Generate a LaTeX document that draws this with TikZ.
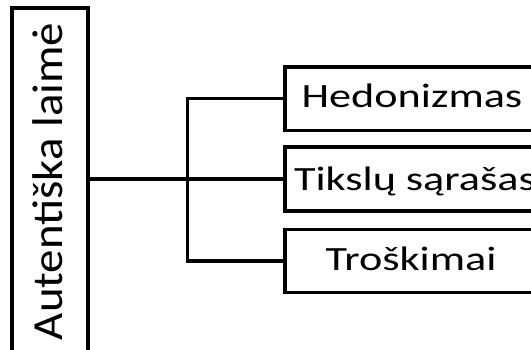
\documentclass[tikz,border=0pt]{standalone}
\usepackage{fontspec}
\setmainfont{Carlito}
\begin{document}
\begin{tikzpicture}[x=1pt,y=1pt,
  box/.style={draw=black,line width=3.2pt,inner sep=0pt,outer sep=0pt,rectangle},
  conn/.style={draw=black,line width=3.2pt,line cap=rect},
  lbl/.style={inner sep=0pt,outer sep=0pt,font=\fontsize{34}{40}\selectfont}]
\useasboundingbox (0,0) rectangle (531,349);
\clip (0,0) rectangle (531,349);
\fill[white] (0,0) rectangle (531,349);
% root box
\node[box,minimum width=76pt,minimum height=360pt] (root) at (50,161) {};
\node[inner sep=0pt,outer sep=0pt,rotate=90,anchor=base west,font=\fontsize{43}{48}\selectfont] (roottxt) at (63,9) {\scalebox{1.09}[1]{Autentiška laimė}};
% right boxes
\node[box,minimum width=275pt,minimum height=63.5pt] (b1) at (422.5,250.3) {};
\node[box,minimum width=275pt,minimum height=64pt] (b2) at (422.5,170) {};
\node[box,minimum width=275pt,minimum height=63.5pt] (b3) at (422.5,88) {};
\node[lbl,anchor=base] (t1) at (412,241) {\scalebox{1.3}[1]{Hedonizmas}};
\node[lbl,anchor=base west] (t2) at (294,159) {\scalebox{1.3}[1]{Tikslų sąrašas}};
\node[lbl,anchor=base] (t3) at (411,79) {\scalebox{1.3}[1]{Troškimai}};
% connectors
\coordinate (j) at (187.3,170);
\draw[conn] (root.east |- j) -- (j);
\draw[conn] (j) |- (b1.west);
\draw[conn] (j) -- (b2.west);
\draw[conn] (j) |- (b3.west);
\end{tikzpicture}
\end{document}
